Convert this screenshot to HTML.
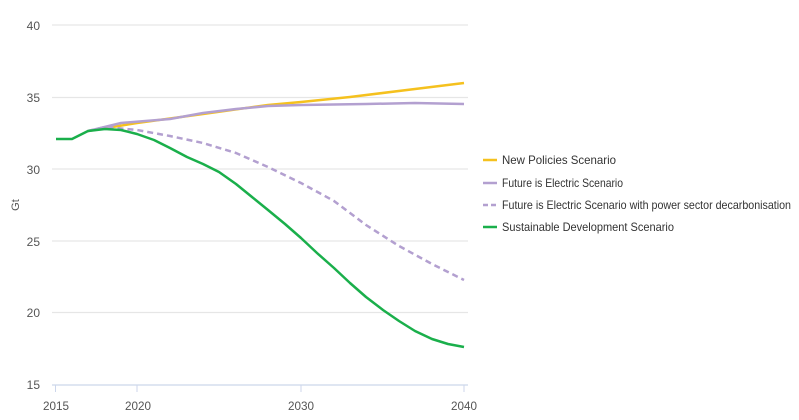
<!DOCTYPE html><html><head><style>body{margin:0;background:#fff}svg{display:block}text{font-family:"Liberation Sans",sans-serif;}</style></head><body>
<svg width="799" height="420" xmlns="http://www.w3.org/2000/svg">
<g stroke="#e6e6e6" stroke-width="1.3">
<line x1="52" x2="468" y1="25" y2="25"/><line x1="52" x2="468" y1="97.5" y2="97.5"/><line x1="52" x2="468" y1="169" y2="169"/><line x1="52" x2="468" y1="241" y2="241"/><line x1="52" x2="468" y1="312.5" y2="312.5"/></g>
<line x1="52" x2="468" y1="385" y2="385" stroke="#ccd6eb" stroke-width="1.3"/>
<g stroke="#ccd6eb"><line x1="55.5" x2="55.5" y1="385" y2="392"/><line x1="137" x2="137" y1="385" y2="392"/><line x1="301" x2="301" y1="385" y2="392"/><line x1="464" x2="464" y1="385" y2="392"/></g>
<g fill="#555" font-size="12" text-anchor="end"><text x="40" y="30">40</text><text x="40" y="102">35</text><text x="40" y="174">30</text><text x="40" y="246">25</text><text x="40" y="317">20</text><text x="40" y="389">15</text></g>
<g fill="#555" font-size="12" text-anchor="middle"><text x="56" y="410" textLength="26" lengthAdjust="spacingAndGlyphs">2015</text><text x="138" y="410" textLength="26" lengthAdjust="spacingAndGlyphs">2020</text><text x="301" y="410" textLength="26" lengthAdjust="spacingAndGlyphs">2030</text><text x="464" y="410" textLength="26" lengthAdjust="spacingAndGlyphs">2040</text></g>
<text transform="translate(19,205) rotate(-90)" fill="#555" font-size="11" text-anchor="middle">Gt</text>
<g fill="none" stroke-width="2.5" stroke-linejoin="round">
<polyline stroke="#f5c11e" points="88,131 137,123 203,114 268,105 301,102 350,97 415,89 464,83"/>
<polyline stroke="#b3a0d0" points="88,131 121,123 170,119 203,113 236,109 268,106 301,105 366,104 415,103 464,104"/>
<polyline stroke="#b3a0d0" stroke-dasharray="6,4" points="88,131 105,127 137,130 170,136 203,143 236,153 268,167 301,183 334,201 366,225 399,246 432,264 464,280"/>
<polyline stroke="#1aaf4b" points="56,139 72,139 88,131 105,129 121,130 137,134 154,140 170,148 187,157 203,164 219,172 236,184 252,197 268,210 285,224 301,238 317,253 334,268 350,283 366,297 383,310 399,321 415,331 432,339 448,344 464,347"/>
</g>
<g stroke-width="2.5"><line x1="483" x2="497" y1="160" y2="160" stroke="#f5c11e"/><line x1="483" x2="497" y1="183" y2="183" stroke="#b3a0d0"/><line x1="483" x2="497" y1="205" y2="205" stroke="#b3a0d0" stroke-dasharray="5,3"/><line x1="483" x2="497" y1="227" y2="227" stroke="#1aaf4b"/></g>
<g fill="#333" font-size="12"><text x="502" y="164" textLength="114" lengthAdjust="spacingAndGlyphs">New Policies Scenario</text><text x="502" y="187" textLength="121" lengthAdjust="spacingAndGlyphs">Future is Electric Scenario</text><text x="502" y="209" textLength="289" lengthAdjust="spacingAndGlyphs">Future is Electric Scenario with power sector decarbonisation</text><text x="502" y="231" textLength="172" lengthAdjust="spacingAndGlyphs">Sustainable Development Scenario</text></g>
</svg></body></html>
